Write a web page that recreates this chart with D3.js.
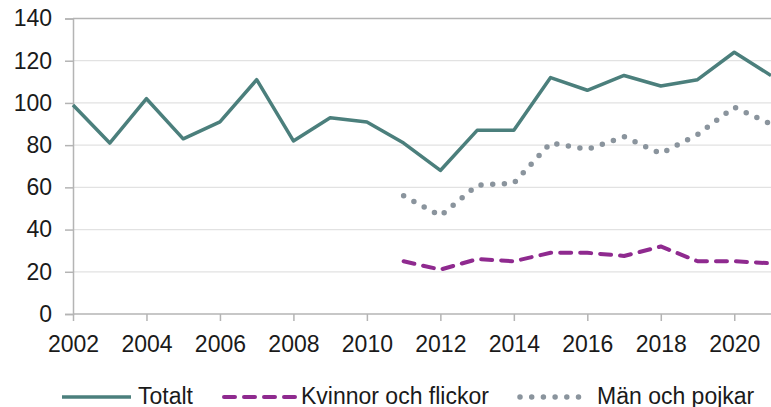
<!DOCTYPE html>
<html>
<head>
<meta charset="utf-8">
<script src="https://cdn.jsdelivr.net/npm/d3@7"></script>
<style>
  body { margin: 0; background: #fff; }
  svg text { font-family: "Liberation Sans", Arial, sans-serif; fill: #1a1a1a; }
</style>
</head>
<body>
<div id="chart"></div>
<script>
// years and series
var years = d3.range(2002, 2022);
var totalt = [99, 81, 102, 83, 91, 111, 82, 93, 91, 81, 68, 87, 87, 112, 106, 113, 108, 111, 124, 113];
var subYears = d3.range(2011, 2022);
var kvinnor = [25, 21, 26, 25, 29, 29, 27.5, 32, 25, 25, 24];
var man = [56, 46.5, 61, 62, 81, 78, 84, 76, 85, 98, 90];
var xTicks = [2002, 2004, 2006, 2008, 2010, 2012, 2014, 2016, 2018, 2020];
var yTicks = [0, 20, 40, 60, 80, 100, 120, 140];
var names = ["Totalt", "Kvinnor och flickor", "Män och pojkar"];

var W = 771, H = 407;
var svg = d3.select("#chart").append("svg").attr("width", W).attr("height", H);

var x = d3.scaleLinear().domain([2002, 2021]).range([73, 771]);
var y = d3.scaleLinear().domain([0, 140]).range([314, 18.5]);

// gridlines
svg.append("g")
  .selectAll("line")
  .data(yTicks.filter(function(d) { return d > 0; }))
  .enter().append("line")
  .attr("x1", x(2002)).attr("x2", W)
  .attr("y1", function(d) { return y(d); })
  .attr("y2", function(d) { return y(d); })
  .attr("stroke", function(d) { return d === 140 ? "#b4b4b4" : "#e2e2e2"; })
  .attr("stroke-width", 1.3);

// y axis
var yAxis = svg.append("g")
  .attr("transform", "translate(" + x(2002) + ",0)")
  .call(d3.axisLeft(y).tickValues(yTicks).tickSize(8).tickPadding(13));
// x axis
var xAxis = svg.append("g")
  .attr("transform", "translate(0," + y(0) + ")")
  .call(d3.axisBottom(x).tickValues(xTicks).tickFormat(d3.format("d")).tickSize(7).tickPadding(15));

[yAxis, xAxis].forEach(function(a) {
  a.select(".domain").attr("stroke", "#b4b4b4").attr("stroke-width", 1.5);
  a.selectAll(".tick line").attr("stroke", "#b4b4b4").attr("stroke-width", 1.5);
  a.selectAll(".tick text").attr("font-size", "23px").attr("fill", "#1a1a1a");
});
xAxis.select(".domain").attr("d", "M" + x(2002) + ",0H" + W);

var styles = [
  { color: "#4b7f7c", width: 3.5, dash: null, cap: "butt" },
  { color: "#8f2a8f", width: 4, dash: "11 9", cap: "round" },
  { color: "#8a949d", width: 5.5, dash: "0 11.7", cap: "round" }
];

var line = d3.line()
  .x(function(d) { return x(d[0]); })
  .y(function(d) { return y(d[1]); });

var seriesData = [
  d3.zip(years, totalt),
  d3.zip(subYears, kvinnor),
  d3.zip(subYears, man)
];

svg.append("clipPath").attr("id", "clip")
  .append("rect").attr("x", 0).attr("y", 0).attr("width", W).attr("height", 330);

svg.append("g").attr("clip-path", "url(#clip)")
  .selectAll("path")
  .data(seriesData)
  .enter().append("path")
  .attr("d", line)
  .attr("fill", "none")
  .attr("stroke", function(d, i) { return styles[i].color; })
  .attr("stroke-width", function(d, i) { return styles[i].width; })
  .attr("stroke-dasharray", function(d, i) { return styles[i].dash; })
  .attr("stroke-linecap", function(d, i) { return styles[i].cap; })
  .attr("stroke-linejoin", "round");

// legend
var legX = [62, 224, 520];
var leg = svg.append("g").selectAll("g")
  .data(names)
  .enter().append("g")
  .attr("transform", function(d, i) { return "translate(" + legX[i] + ",397)"; });

leg.append("line")
  .attr("x1", 0)
  .attr("x2", function(d, i) { return i === 0 ? 69 : (i === 1 ? 71 : 70); })
  .attr("stroke", function(d, i) { return styles[i].color; })
  .attr("stroke-width", function(d, i) { return styles[i].width; })
  .attr("stroke-dasharray", function(d, i) { return styles[i].dash; })
  .attr("stroke-linecap", function(d, i) { return styles[i].cap; });

leg.append("text")
  .attr("x", function(d, i) { return i === 0 ? 76 : 77; })
  .attr("y", 6.5)
  .attr("font-size", "23px")
  .text(function(d) { return d; });
</script>
</body>
</html>
